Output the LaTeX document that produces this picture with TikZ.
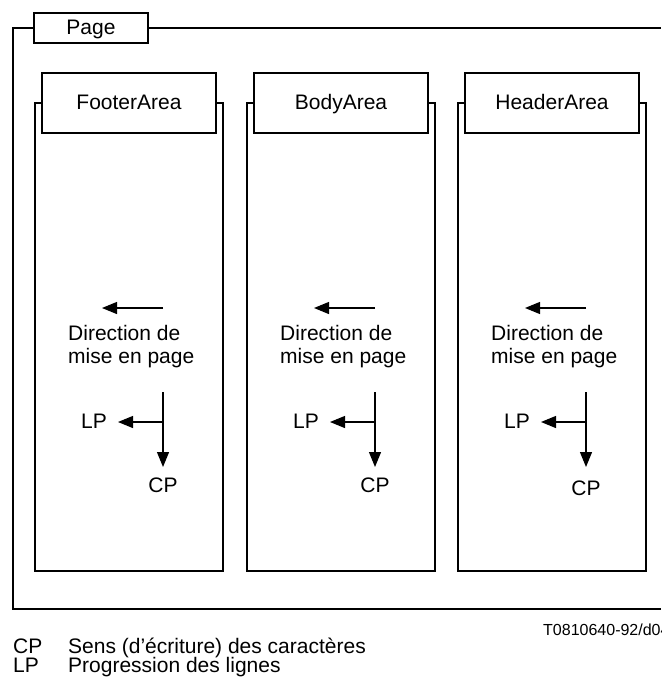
\documentclass[tikz,border=0pt]{standalone}
\usepackage{fontspec}
\setmainfont{Liberation Sans}
\usetikzlibrary{arrows.meta}
\begin{document}
\begin{tikzpicture}[x=1pt,y=-1pt,
  frame/.style={line width=1.2pt},
  areabox/.style={draw, line width=1.2pt, minimum width=174pt, minimum height=60pt, inner sep=0pt, text height=15pt, text depth=1pt, font=\fontsize{21}{25}\selectfont},
  lbl/.style={inner sep=0pt, font=\fontsize{21}{23.5}\selectfont},
  legend/.style={inner sep=0pt, anchor=base west, font=\fontsize{21}{23}\selectfont},
  arr/.style={line width=1.2pt, -{Triangle[length=15pt,width=12pt]}},
]
\useasboundingbox (0,0) rectangle (661,682);
% page frame
\node[areabox, minimum width=114pt, minimum height=30pt] (page) at (91,28) {Page};
\coordinate (ftl) at (13,28);
\coordinate (fbl) at (13,609);
\coordinate (fbr) at (661,609);
\coordinate (ftr) at (661,28);
\draw[frame] (page.west) -- (ftl) -- (fbl) -- (fbr);
\draw[frame] (page.east) -- (ftr);
% columns
\foreach \L/\name/\nm/\cpy in {35/FooterArea/f/485, 247/BodyArea/b/485, 458/HeaderArea/h/488}{
  \node[areabox] (box\nm) at (\L+94,103) {\name};
  \coordinate (ctl\nm) at (\L,103);
  \coordinate (cbl\nm) at (\L,571);
  \coordinate (cbr\nm) at (\L+188,571);
  \coordinate (ctr\nm) at (\L+188,103);
  \draw[frame] (box\nm.west) -- (ctl\nm) -- (cbl\nm) -- (cbr\nm) -- (ctr\nm) -- (box\nm.east);
  % direction arrow
  \coordinate (ds\nm) at (\L+128,308);
  \coordinate (de\nm) at (\L+67,308);
  \draw[arr] (ds\nm) -- (de\nm);
  \node[lbl, align=left, anchor=north west] (dir\nm) at (\L+33,325) {Direction de\\mise en page};
  % LP / CP arrows
  \coordinate (vt\nm) at (\L+128,392);
  \coordinate (vb\nm) at (\L+128,422);
  \coordinate (vtip\nm) at (\L+128,467);
  \coordinate (ltip\nm) at (\L+83,422);
  \draw[arr] (vt\nm) -- (vtip\nm);
  \draw[arr] (vb\nm) -- (ltip\nm);
  \node[lbl] (lp\nm) at (\L+59,421) {LP};
  \node[lbl] (cp\nm) at (\L+128,\cpy) {CP};
}
% reference code
\node[inner sep=0pt, anchor=base west, font=\fontsize{16}{18}\selectfont] (ref) at (543,635) {T0810640-92/d04};
% legend
\node[legend] (kcp) at (13,653) {CP};
\node[legend] (dcp) at (68,653) {Sens (d’écriture) des caractères};
\node[legend] (klp) at (13,672) {LP};
\node[legend] (dlp) at (68,672) {Progression des lignes};
\end{tikzpicture}
\end{document}
